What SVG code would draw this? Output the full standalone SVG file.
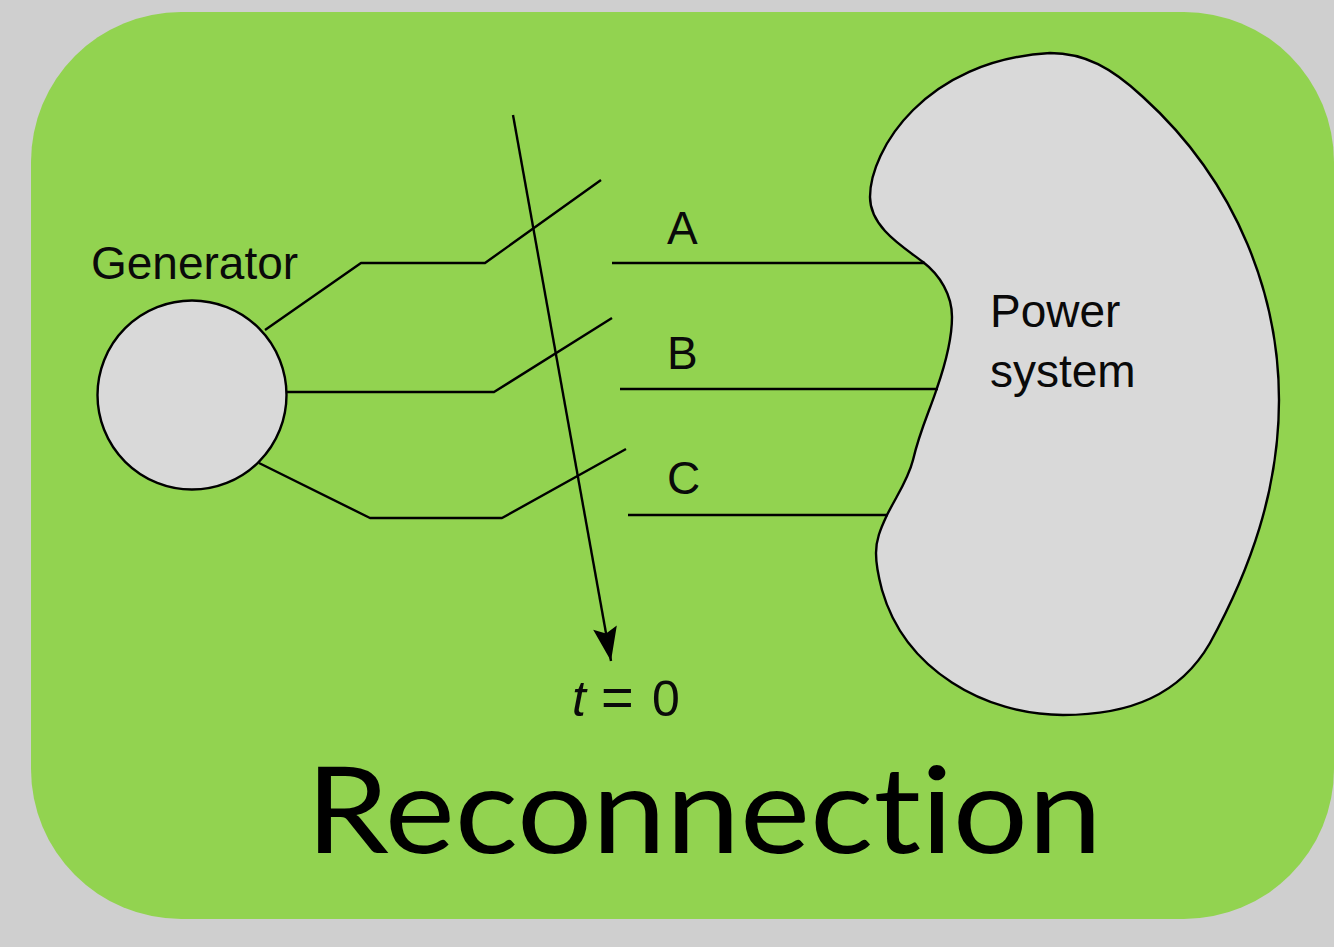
<svg xmlns="http://www.w3.org/2000/svg" width="1334" height="947" viewBox="0 0 1334 947">
<style>
.l{fill:none;stroke:#000;stroke-width:2.4;stroke-linejoin:round}
.s{fill:#d9d9d9;stroke:#000;stroke-width:2.4}
.t{font-family:"Liberation Sans",Arial,sans-serif;font-size:46px;fill:#0a0a0a}
</style>
<defs><marker id="a" markerUnits="userSpaceOnUse" markerWidth="40" markerHeight="26" refX="38" refY="13" orient="auto"><path d="M38 13L4 1L10 13L4 25Z" fill="#000"/></marker></defs>
<rect width="1334" height="947" fill="#cfcfcf"/>
<rect id="panel" x="31" y="12" width="1303" height="907" rx="150" fill="#92d350"/>
<g id="generator"><circle class="s" cx="192" cy="395" r="94.500"/><text class="t" x="91" y="279">Generator</text></g>
<g id="power-system"><path class="s" d="M1050 53C1085 53 1112 68 1143 97C1240 185 1279 300 1279 400C1279 490 1250 570 1210 643C1180 695 1130 715 1063 715C985 715 905 670 882 590C878 575 876 565 876 553C876 540 880 530 887 515C897 495 908 480 913 460C920 430 930 410 937 388C945 365 952 340 952 317C952 295 940 275 923 262C905 248 870 228 870 197C870 150 925 60 1050 53Z"/><text class="t" x="990" y="327">Power</text><text class="t" x="990" y="387">system</text></g>
<g id="connectors">
<path class="l" d="M265 330L361 263H485L601 180"/>
<path class="l" d="M287 392H494L612 318"/>
<path class="l" d="M259 463L370 518H502L626 449"/>
<path class="l" d="M612 263H925"/>
<path class="l" d="M620 389H938"/>
<path class="l" d="M628 515H888"/>
<path class="l" d="M513 115L611 661" marker-end="url(#a)"/>
</g>
<g id="labels">
<text class="t" x="667" y="244">A</text><text class="t" x="667" y="369">B</text><text class="t" x="667" y="494">C</text>
<text x="572" y="716" style="font-family:'Liberation Sans',sans-serif;font-size:50px;font-style:italic;fill:#0a0a0a">t</text>
<text x="601" y="716" style="font-family:'Liberation Sans',sans-serif;font-size:56px;fill:#0a0a0a">=</text>
<text x="652" y="716" style="font-family:'Liberation Sans',sans-serif;font-size:50px;fill:#0a0a0a">0</text>
<text x="306" y="853" textLength="796" lengthAdjust="spacingAndGlyphs" style="font-family:Lato,'Liberation Sans',sans-serif;font-size:120px;font-variant-ligatures:none;fill:#000">Reconnection</text>
</g>
</svg>
